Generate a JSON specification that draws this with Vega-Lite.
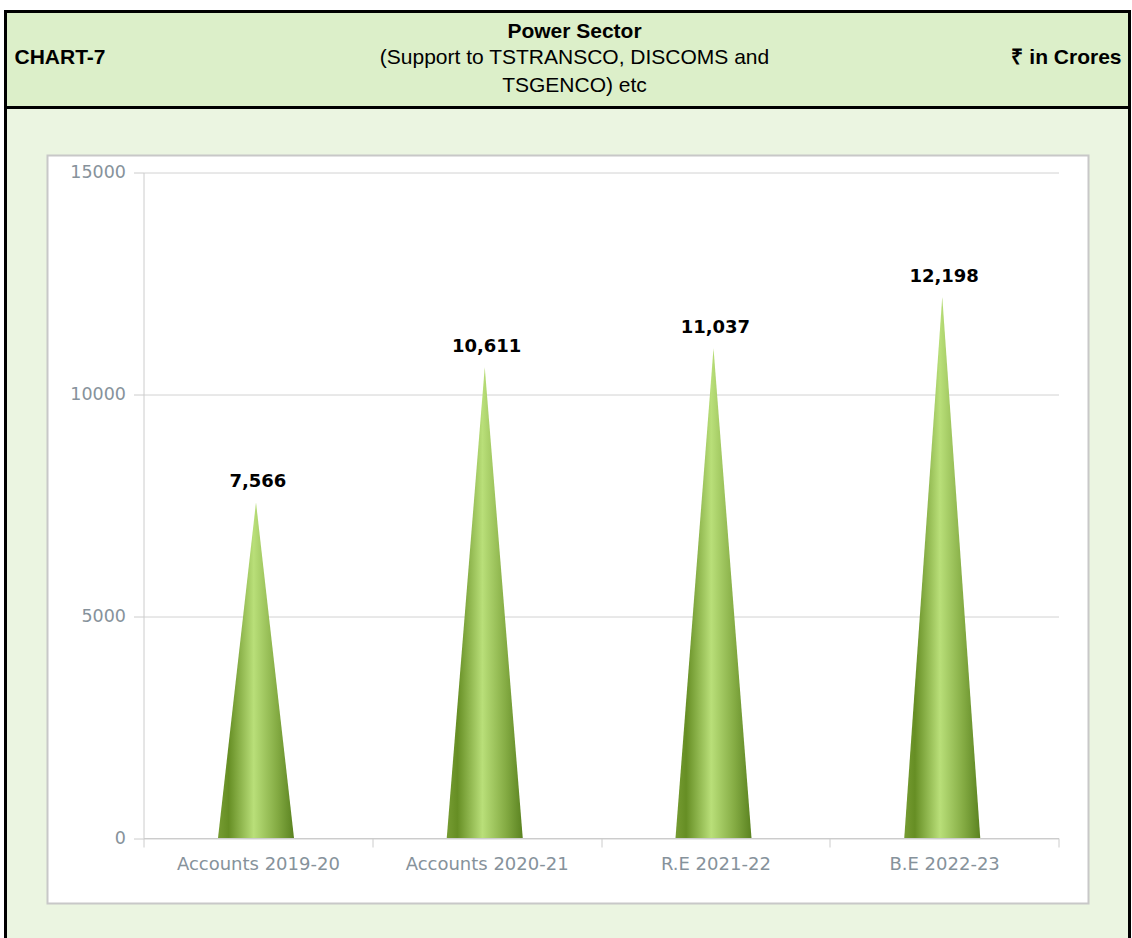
{
  "$schema": "https://vega.github.io/schema/vega-lite/v6.json",
  "background": "white",
  "padding": {"left": 3.5, "top": 9.5, "right": 0, "bottom": 0},
  "spacing": 0,
  "bounds": "flush",
  "config": {"font": "DejaVu Sans"},
  "datasets": {
    "budget": [
      {"period": "Accounts 2019-20", "amount": 7566, "base_left": 0, "base_right": 0},
      {"period": "Accounts 2020-21", "amount": 10611, "base_left": 0, "base_right": 0},
      {"period": "R.E 2021-22", "amount": 11037, "base_left": 0, "base_right": 0},
      {"period": "B.E 2022-23", "amount": 12198, "base_left": 0, "base_right": 0}
    ],
    "header": [
      {"label": "CHART-7", "title": "Power Sector", "subtitle": ["(Support to TSTRANSCO, DISCOMS and", "TSGENCO) etc"], "unit": "₹ in Crores"}
    ]
  },
  "vconcat": [
    {
      "width": 1124,
      "height": 96,
      "view": {"fill": "#dcefc9", "stroke": "#000000", "strokeWidth": 3},
      "data": {"name": "header"},
      "layer": [
        {
          "mark": {"type": "text", "x": 9, "y": 46, "align": "left", "baseline": "middle", "font": "Liberation Sans", "fontSize": 21, "fontWeight": "bold", "color": "#000000"},
          "encoding": {"text": {"field": "label"}}
        },
        {
          "mark": {"type": "text", "x": {"expr": "width/2 + 7"}, "y": 20, "align": "center", "baseline": "middle", "font": "Liberation Sans", "fontSize": 21, "fontWeight": "bold", "color": "#000000"},
          "encoding": {"text": {"field": "title"}}
        },
        {
          "mark": {"type": "text", "x": {"expr": "width/2 + 7"}, "y": 46, "align": "center", "baseline": "middle", "lineHeight": 28, "font": "Liberation Sans", "fontSize": 21, "color": "#000000"},
          "encoding": {"text": {"field": "subtitle"}}
        },
        {
          "mark": {"type": "text", "x": {"expr": "width - 8"}, "y": 46, "align": "right", "baseline": "middle", "font": "Liberation Sans", "fontSize": 21, "fontWeight": "bold", "color": "#000000"},
          "encoding": {"text": {"field": "unit"}}
        }
      ]
    },
    {
      "width": 1124,
      "height": 833,
      "view": {"fill": "#ebf5e1", "stroke": "#000000", "strokeWidth": 3},
      "resolve": {"scale": {"x": "independent", "y": "independent"}},
      "layer": [
        {
          "data": {"values": [{}]},
          "mark": {"type": "rect", "fillOpacity": 0, "stroke": "#c8c8c8", "strokeWidth": 2},
          "encoding": {
            "x": {"datum": 0, "type": "quantitative", "scale": {"domain": [0, 1], "range": [42, 1083], "zero": false, "nice": false}, "axis": null},
            "x2": {"datum": 1},
            "y": {
              "datum": 0, "type": "quantitative",
              "scale": {"domain": [0, 1], "range": [48, 796], "zero": false, "nice": false},
              "axis": {"orient": "left", "values": [0.5], "grid": true, "gridColor": "#ffffff", "gridOpacity": 1, "gridWidth": 748, "domain": false, "ticks": false, "labels": false, "title": null}
            },
            "y2": {"datum": 1}
          }
        },
        {
          "data": {"name": "budget"},
          "layer": [
            {
              "transform": [{"fold": ["base_left", "amount", "base_right"], "as": ["part", "level"]}],
              "mark": {
                "type": "area",
                "interpolate": "linear",
                "fill": {
                  "gradient": "linear", "x1": 0, "x2": 1, "y1": 0, "y2": 0,
                  "stops": [
                    {"offset": 0, "color": "#769c32"},
                    {"offset": 0.14, "color": "#668e24"},
                    {"offset": 0.47, "color": "#b9df79"},
                    {"offset": 0.78, "color": "#84ab43"},
                    {"offset": 1, "color": "#5a8220"}
                  ]
                }
              },
              "encoding": {
                "x": {
                  "field": "period", "type": "nominal", "sort": null,
                  "scale": {"type": "band", "range": [138, 1053], "paddingInner": 0, "paddingOuter": 0},
                  "axis": {
                    "orient": "bottom", "offset": -102.5, "title": null, "labelAngle": 0,
                    "tickBand": "extent", "domainColor": "#cccccc", "tickColor": "#cccccc", "tickSize": 9,
                    "labelPadding": 8, "labelColor": "#86929b", "labelFontSize": 18, "labelFont": "DejaVu Sans", "grid": false
                  }
                },
                "xOffset": {
                  "field": "part", "type": "nominal",
                  "scale": {"type": "point", "domain": ["base_left", "amount", "base_right"], "range": [74.5, 150.5], "padding": 0}
                },
                "y": {
                  "field": "level", "type": "quantitative",
                  "scale": {"domain": [0, 15000], "range": [730.5, 65], "nice": false, "zero": true},
                  "axis": {
                    "orient": "left", "offset": -138, "title": null, "values": [0, 5000, 10000, 15000], "format": "d",
                    "grid": true, "gridColor": "#d2d2d2", "domainColor": "#cccccc", "tickColor": "#cccccc", "tickSize": 10,
                    "labelPadding": 8, "labelColor": "#86929b", "labelFontSize": 17.5, "labelFont": "DejaVu Sans"
                  }
                },
                "detail": {"field": "period"}
              }
            },
            {
              "mark": {"type": "text", "baseline": "middle", "align": "center", "dy": -20, "font": "DejaVu Sans", "fontSize": 18, "fontWeight": "bold", "color": "#000000"},
              "encoding": {
                "x": {"field": "period", "type": "nominal", "sort": null},
                "y": {"field": "amount", "type": "quantitative"},
                "text": {"field": "amount", "type": "quantitative", "format": ","}
              }
            }
          ]
        }
      ]
    }
  ]
}
